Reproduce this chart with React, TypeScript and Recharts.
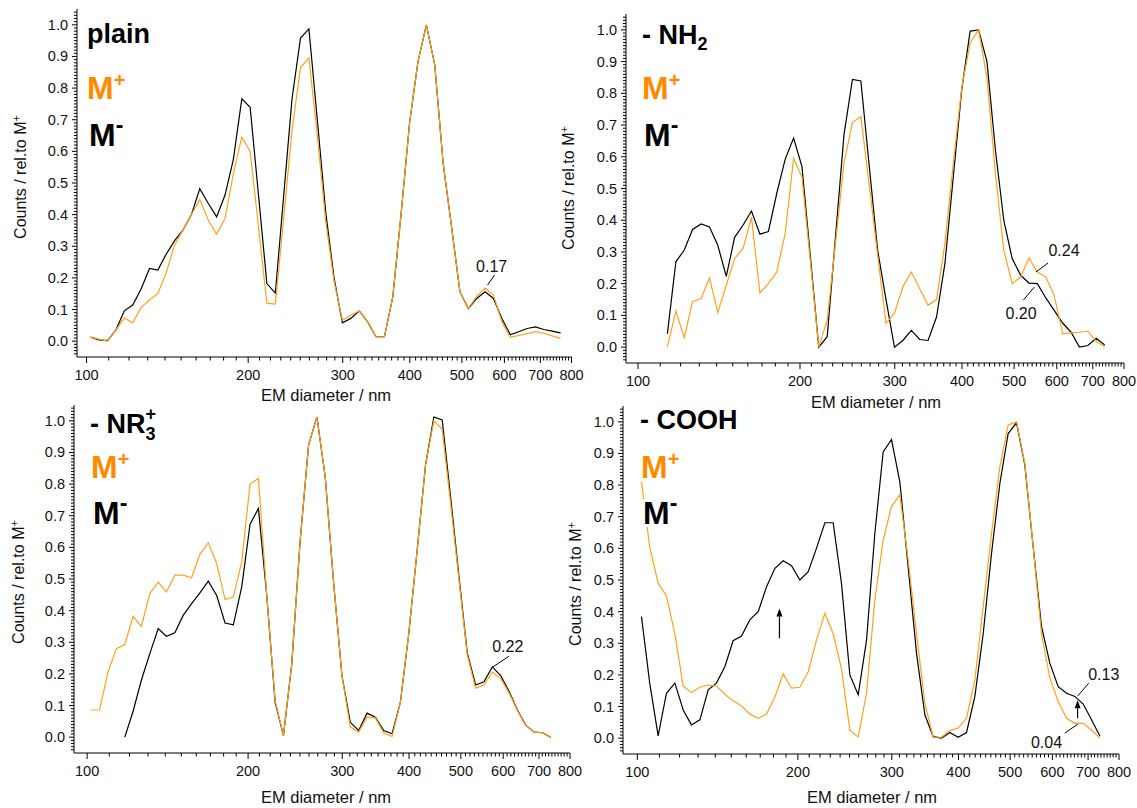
import React from "react";
import { Line, LineChart, ReferenceDot, ReferenceLine, XAxis, YAxis } from "recharts";

// EM diameter bin midpoints (nm), shared by all four samples
const diameters = [
  101.8, 105.5, 109.4, 113.4, 117.6, 121.9, 126.3, 131.0, 135.8, 140.7, 145.9, 151.2, 156.8, 162.5,
  168.5, 174.7, 181.1, 187.7, 194.6, 201.7, 209.1, 216.7, 224.7, 232.9, 241.4, 250.3, 259.5, 269.0,
  278.8, 289.0, 299.6, 310.6, 322.0, 333.8, 346.0, 358.7, 371.8, 385.4, 399.5, 414.2, 429.4, 445.1,
  461.4, 478.3, 495.8, 514.0, 532.8, 552.3, 572.5, 593.5, 615.3, 637.8, 661.2, 685.4, 710.5, 736.5,
  763.5
];

// plain
const plainPlus = [
  0.013, 0.006, 0.0, 0.035, 0.073, 0.058, 0.106, 0.13, 0.151, 0.216, 0.304, 0.351, 0.4, 0.448,
  0.383, 0.338, 0.388, 0.53, 0.645, 0.6, 0.36, 0.12, 0.117, 0.39, 0.668, 0.865, 0.895, 0.65,
  0.38, 0.19, 0.066, 0.082, 0.096, 0.061, 0.014, 0.014, 0.14, 0.404, 0.689, 0.884, 1.0, 0.873,
  0.562, 0.362, 0.156, 0.103, 0.142, 0.167, 0.146, 0.061, 0.012, 0.018, 0.024, 0.03, 0.025, 0.017,
  0.009
];
const plainMinus = [
  0.013, 0.004, 0.002, 0.035, 0.096, 0.114, 0.164, 0.23, 0.225, 0.275, 0.318, 0.351, 0.4, 0.482,
  0.436, 0.393, 0.462, 0.575, 0.766, 0.739, 0.46, 0.182, 0.152, 0.46, 0.767, 0.958, 0.987, 0.7,
  0.41, 0.2, 0.058, 0.072, 0.096, 0.061, 0.014, 0.014, 0.14, 0.404, 0.689, 0.884, 1.0, 0.873,
  0.562, 0.362, 0.156, 0.103, 0.135, 0.156, 0.135, 0.072, 0.02, 0.03, 0.04, 0.045, 0.037, 0.032,
  0.026
];

// - NH2
const nh2Plus = [
  null, null, null, 0.0, 0.114, 0.03, 0.144, 0.153, 0.218, 0.109, 0.195, 0.279, 0.311, 0.409,
  0.171, 0.2, 0.237, 0.358, 0.595, 0.536, 0.27, 0.0, 0.085, 0.33, 0.579, 0.708, 0.727, 0.51,
  0.29, 0.075, 0.107, 0.19, 0.237, 0.184, 0.132, 0.15, 0.327, 0.58, 0.817, 0.959, 1.0, 0.848,
  0.548, 0.306, 0.2, 0.221, 0.281, 0.237, 0.221, 0.163, 0.042, 0.045, 0.047, 0.05, 0.019, 0.0,
  null
];
const nh2Minus = [
  null, null, null, 0.042, 0.269, 0.306, 0.371, 0.388, 0.379, 0.321, 0.223, 0.346, 0.385, 0.429,
  0.356, 0.364, 0.485, 0.592, 0.659, 0.569, 0.285, 0.0, 0.033, 0.35, 0.669, 0.844, 0.839, 0.57,
  0.306, 0.15, 0.0, 0.021, 0.053, 0.024, 0.021, 0.095, 0.263, 0.537, 0.811, 0.996, 1.0, 0.9,
  0.622, 0.4, 0.279, 0.227, 0.202, 0.2, 0.155, 0.116, 0.076, 0.047, 0.0, 0.005, 0.028, 0.007,
  null
];

// - NR3+
const nr3Plus = [
  0.086, 0.086, 0.206, 0.28, 0.293, 0.382, 0.35, 0.454, 0.49, 0.459, 0.512, 0.512, 0.504, 0.578,
  0.615, 0.549, 0.435, 0.443, 0.554, 0.8, 0.818, 0.45, 0.116, 0.005, 0.232, 0.622, 0.923, 1.012,
  0.823, 0.49, 0.195, 0.032, 0.016, 0.063, 0.061, 0.013, 0.002, 0.111, 0.327, 0.59, 0.86, 1.0,
  0.973, 0.74, 0.5, 0.26, 0.155, 0.165, 0.206, 0.185, 0.14, 0.084, 0.037, 0.016, 0.014, 0.0,
  null
];
const nr3Minus = [
  null, null, null, null, 0.0, 0.082, 0.18, 0.264, 0.343, 0.319, 0.33, 0.385, 0.422, 0.456,
  0.493, 0.448, 0.361, 0.355, 0.475, 0.673, 0.723, 0.45, 0.111, 0.005, 0.232, 0.622, 0.923, 1.012,
  0.823, 0.49, 0.195, 0.047, 0.021, 0.076, 0.063, 0.021, 0.011, 0.111, 0.327, 0.59, 0.86, 1.012,
  1.003, 0.76, 0.51, 0.266, 0.165, 0.175, 0.222, 0.195, 0.145, 0.086, 0.038, 0.016, 0.014, 0.0,
  null
];

// - COOH
const coohPlus = [
  0.81, 0.605, 0.49, 0.45, 0.33, 0.165, 0.144, 0.161, 0.168, 0.165, 0.139, 0.118, 0.102, 0.076,
  0.063, 0.076, 0.13, 0.203, 0.158, 0.161, 0.21, 0.31, 0.395, 0.33, 0.22, 0.026, 0.003, 0.142,
  0.437, 0.626, 0.732, 0.77, 0.563, 0.33, 0.11, 0.003, 0.003, 0.024, 0.032, 0.063, 0.184, 0.416,
  0.647, 0.858, 0.99, 1.0, 0.868, 0.605, 0.33, 0.19, 0.116, 0.063, 0.047, 0.047, 0.026, 0.0,
  null
];
const coohMinus = [
  0.384, 0.174, 0.007, 0.142, 0.174, 0.089, 0.042, 0.058, 0.153, 0.174, 0.226, 0.308, 0.323, 0.374,
  0.4, 0.479, 0.537, 0.561, 0.545, 0.5, 0.526, 0.6, 0.681, 0.681, 0.49, 0.2, 0.137, 0.31,
  0.647, 0.905, 0.944, 0.81, 0.54, 0.268, 0.074, 0.005, 0.0, 0.018, 0.003, 0.018, 0.132, 0.33,
  0.584, 0.805, 0.963, 0.997, 0.863, 0.605, 0.353, 0.237, 0.163, 0.142, 0.132, 0.108, 0.058, 0.007,
  null
];

const xMajorTicks = [100, 200, 300, 400, 500, 600, 700, 800];
const xTicks = Array.from({ length: 71 }, (_, i) => 100 + i * 10);
const yTicks = Array.from({ length: 109 }, (_, i) => Math.round(i - 4) / 100);

const FONT = '"Liberation Sans", Arial, Helvetica, sans-serif';
const ORANGE = "#ffa11c";
const ORANGE_TEXT = "#ff8a00";

type Row = { d: number; plus: number | null; minus: number | null };

function buildRows(plus: (number | null)[], minus: (number | null)[]): Row[] {
  return diameters.map((d, i) => ({ d, plus: plus[i] ?? null, minus: minus[i] ?? null }));
}

function XTick(props: any) {
  const { x, y, payload } = props;
  const major = xMajorTicks.includes(payload.value);
  return (
    <g>
      <line x1={x} x2={x} y1={y} y2={y + (major ? 6 : 3.5)} stroke="#000" strokeWidth={1} />
      {major && (
        <text x={x} y={y + 23} textAnchor="middle" fontSize={14.5} fontFamily={FONT} fill="#111">
          {payload.value}
        </text>
      )}
    </g>
  );
}

function YTick(props: any) {
  const { x, y, payload } = props;
  const v = payload.value;
  const major = v >= 0 && v <= 1 && Math.abs(v * 10 - Math.round(v * 10)) < 1e-6;
  return (
    <g>
      <line x1={x} x2={x - (major ? 5 : 3)} y1={y} y2={y} stroke="#000" strokeWidth={1} />
      {major && (
        <text x={x - 9} y={y + 5} textAnchor="end" fontSize={14.5} fontFamily={FONT} fill="#111">
          {v.toFixed(1)}
        </text>
      )}
    </g>
  );
}

function Arrow(props: any) {
  const { x1, y1, x2, y2 } = props;
  const ang = Math.atan2(y2 - y1, x2 - x1);
  const hx = x2 - 8 * Math.cos(ang);
  const hy = y2 - 8 * Math.sin(ang);
  const px = -Math.sin(ang) * 3;
  const py = Math.cos(ang) * 3;
  return (
    <g>
      <line x1={x1} y1={y1} x2={hx} y2={hy} stroke="#000" strokeWidth={1.2} />
      <polygon points={`${x2},${y2} ${hx + px},${hy + py} ${hx - px},${hy - py}`} fill="#000" />
    </g>
  );
}

const noteLabel = (value: string) => ({
  value,
  position: "center" as const,
  fontSize: 16,
  fill: "#111",
  fontFamily: FONT
});

function Panel({
  left,
  top,
  plotW,
  plotH,
  xMin,
  right,
  rows,
  children
}: {
  left: number;
  top: number;
  plotW: number;
  plotH: number;
  xMin: number;
  right: number;
  rows: Row[];
  children?: React.ReactNode;
}) {
  return (
    <div style={{ position: "absolute", left: left - 77, top: top - 5 }}>
      <LineChart
        width={77 + plotW + right}
        height={5 + plotH + 45}
        data={rows}
        margin={{ top: 5, right, bottom: 0, left: 0 }}
      >
        <XAxis
          dataKey="d"
          type="number"
          scale="log"
          domain={[xMin, 800]}
          allowDataOverflow
          ticks={xTicks}
          interval={0}
          tickSize={0}
          tickMargin={0}
          tick={<XTick />}
          height={45}
          stroke="#000"
        />
        <YAxis
          type="number"
          domain={[-0.05, 1.05]}
          allowDataOverflow
          ticks={yTicks}
          interval={0}
          tickSize={0}
          tickMargin={0}
          tick={<YTick />}
          width={77}
          stroke="#000"
        />
        <Line
          dataKey="minus"
          type="linear"
          stroke="#000"
          strokeWidth={1.2}
          dot={false}
          isAnimationActive={false}
        />
        <Line
          dataKey="plus"
          type="linear"
          stroke={ORANGE}
          strokeWidth={1.2}
          dot={false}
          isAnimationActive={false}
        />
        {children}
      </LineChart>
    </div>
  );
}

function YTitle({ cx, cy }: { cx: number; cy: number }) {
  return (
    <text
      x={cx}
      y={cy}
      transform={`rotate(-90 ${cx} ${cy})`}
      textAnchor="middle"
      fontSize={16}
      fontFamily={FONT}
      fill="#111"
    >
      Counts / rel.to M<tspan dy={-6} fontSize={11}>+</tspan>
    </text>
  );
}

function XTitle({ cx, y }: { cx: number; y: number }) {
  return (
    <text x={cx} y={y} textAnchor="middle" fontSize={16.5} fontFamily={FONT} fill="#111">
      EM diameter / nm
    </text>
  );
}

function Ions({ x, yPlus, yMinus }: { x: number; yPlus: number; yMinus: number }) {
  const common = {
    fontSize: 32,
    fontWeight: 700,
    fontFamily: FONT,
    stroke: "#fff",
    strokeWidth: 6,
    paintOrder: "stroke" as const
  };
  return (
    <g>
      <text x={x} y={yPlus} fill={ORANGE_TEXT} {...common}>
        M<tspan dy={-12} fontSize={20}>+</tspan>
      </text>
      <text x={x + 2} y={yMinus} fill="#000" {...common}>
        M<tspan dy={-13} fontSize={23}>-</tspan>
      </text>
    </g>
  );
}

export default function App() {
  const titleStyle = { fontSize: 27, fontWeight: 700, fontFamily: FONT, fill: "#000" };
  return (
    <div style={{ position: "absolute", left: 0, top: 0, width: 1137, height: 808, background: "#fff", overflow: "hidden" }}>
      <Panel left={77} top={9} plotW={494.5} plotH={348} xMin={96} right={22} rows={buildRows(plainPlus, plainMinus)}>
        <ReferenceLine segment={[{ x: 575, y: 0.209 }, { x: 558, y: 0.177 }]} stroke="#000" strokeWidth={1} />
        <ReferenceDot x={568} y={0.236} r={0} fill="none" stroke="none" label={noteLabel("0.17")} />
      </Panel>
      <Panel left={626} top={14} plotW={498} plotH={349} xMin={95} right={13} rows={buildRows(nh2Plus, nh2Minus)}>
        <ReferenceLine segment={[{ x: 578, y: 0.265 }, { x: 549, y: 0.237 }]} stroke="#000" strokeWidth={1} />
        <ReferenceDot x={619} y={0.306} r={0} fill="none" stroke="none" label={noteLabel("0.24")} />
        <ReferenceLine segment={[{ x: 545, y: 0.189 }, { x: 520, y: 0.148 }]} stroke="#000" strokeWidth={1} />
        <ReferenceDot x={515} y={0.107} r={0} fill="none" stroke="none" label={noteLabel("0.20")} />
      </Panel>
      <Panel left={74} top={405} plotW={496} plotH={348} xMin={94.5} right={22} rows={buildRows(nr3Plus, nr3Minus)}>
        <ReferenceLine segment={[{ x: 615, y: 0.256 }, { x: 574, y: 0.222 }]} stroke="#000" strokeWidth={1} />
        <ReferenceDot x={612} y={0.288} r={0} fill="none" stroke="none" label={noteLabel("0.22")} />
      </Panel>
      <Panel left={623} top={406} plotW={496} plotH={348} xMin={94} right={18} rows={buildRows(coohPlus, coohMinus)}>
        <ReferenceLine segment={[{ x: 702, y: 0.174 }, { x: 669, y: 0.133 }]} stroke="#000" strokeWidth={1} />
        <ReferenceDot x={749} y={0.202} r={0} fill="none" stroke="none" label={noteLabel("0.13")} />
        <ReferenceLine segment={[{ x: 633, y: 0.016 }, { x: 669, y: 0.044 }]} stroke="#000" strokeWidth={1} />
        <ReferenceDot x={585} y={-0.013} r={0} fill="none" stroke="none" label={noteLabel("0.04")} />
        <ReferenceLine segment={[{ x: 669, y: 0.063 }, { x: 669, y: 0.12 }]} shape={<Arrow />} />
        <ReferenceLine segment={[{ x: 184.7, y: 0.316 }, { x: 184.7, y: 0.41 }]} shape={<Arrow />} />
      </Panel>

      <svg
        width={1137}
        height={808}
        style={{ position: "absolute", left: 0, top: 0, pointerEvents: "none" }}
      >
        <text x={87} y={43} {...titleStyle}>plain</text>
        <text x={642} y={44} {...titleStyle}>
          - NH<tspan dy={6} fontSize={18}>2</tspan>
        </text>
        <text x={90} y={433} {...titleStyle}>
          - NR<tspan dy={7} fontSize={18}>3</tspan>
          <tspan dx={-10} dy={-20} fontSize={18}>+</tspan>
        </text>
        <text x={640} y={429} {...titleStyle}>- COOH</text>

        <Ions x={87} yPlus={99} yMinus={146} />
        <Ions x={642} yPlus={99} yMinus={146} />
        <Ions x={91} yPlus={478} yMinus={524} />
        <Ions x={641} yPlus={478} yMinus={524} />

        <YTitle cx={26} cy={177} />
        <YTitle cx={574} cy={188} />
        <YTitle cx={24} cy={582} />
        <YTitle cx={581} cy={584} />

        <XTitle cx={326} y={401} />
        <XTitle cx={876} y={408} />
        <XTitle cx={326} y={803} />
        <XTitle cx={872} y={803} />
      </svg>
    </div>
  );
}
